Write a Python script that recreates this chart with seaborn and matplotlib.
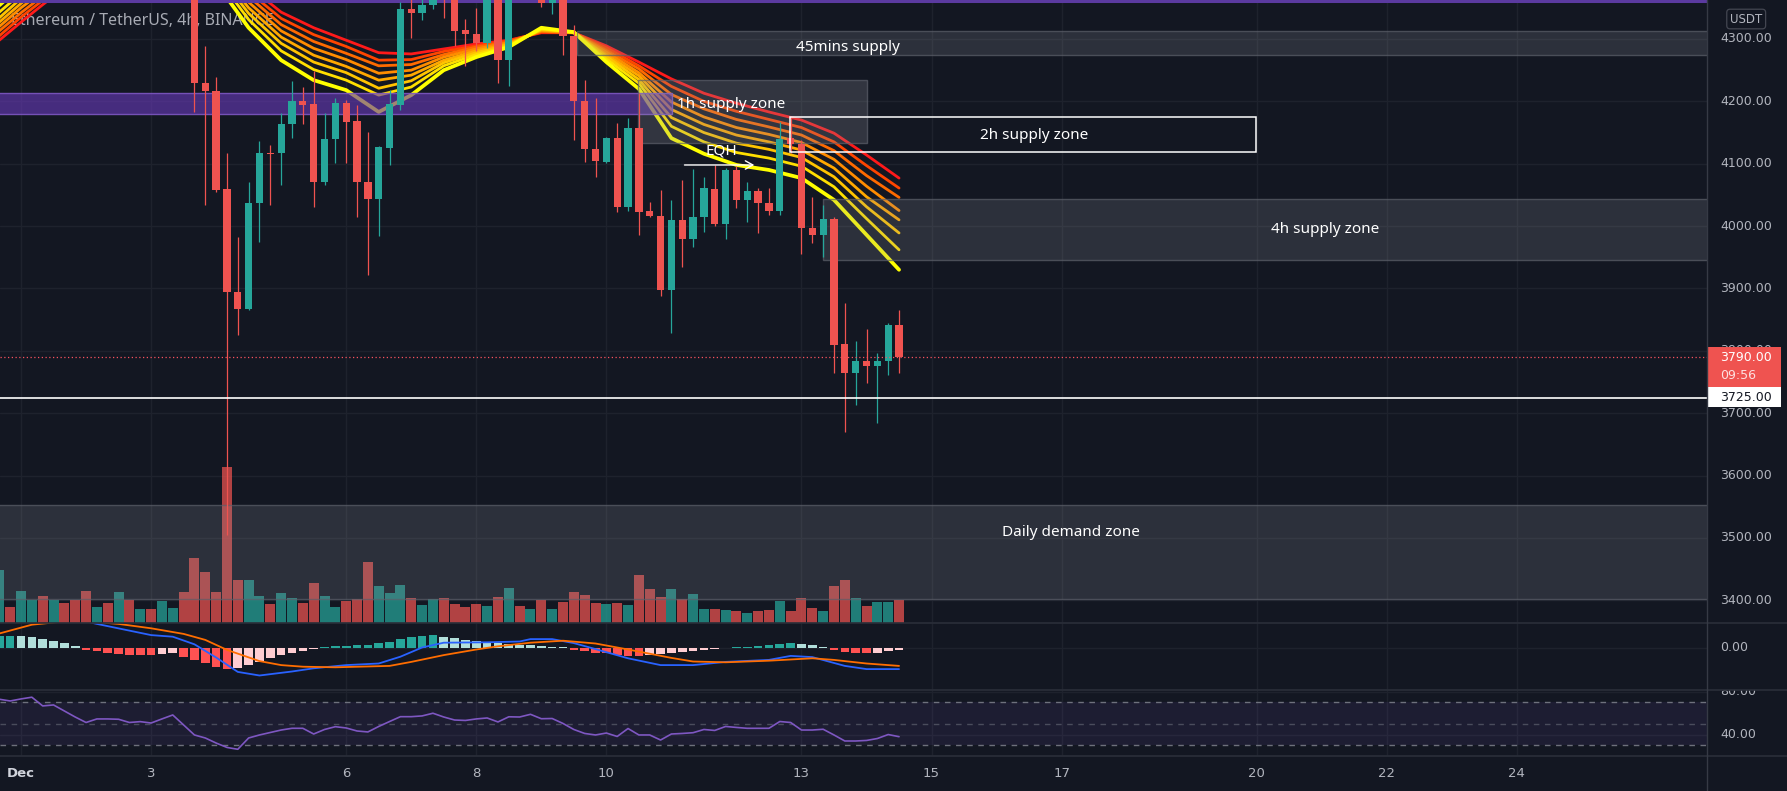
import matplotlib
matplotlib.use('Agg')
import matplotlib.pyplot as plt
import matplotlib.transforms as mtransforms
from matplotlib.patches import Rectangle
from matplotlib.lines import Line2D
from matplotlib.colors import to_rgba
import seaborn as sns

# ---------------- data ----------------
# 4h candles, index 0 = 1 Dec 00:00
candle_idx = list(range(-2, 82))
opens = [4560, 4620, 4600, 4640, 4700, 4630, 4660, 4600, 4560, 4530,
         4580, 4560, 4590, 4560, 4590, 4570, 4600, 4620, 4480, 4230,
         4217, 4059, 3894, 3867, 4037, 4118, 4118, 4163, 4201, 4196,
         4070, 4139, 4198, 4168, 4071, 4044, 4126, 4194, 4348, 4342,
         4355, 4400, 4375, 4314, 4308, 4294, 4380, 4266, 4390, 4370,
         4385, 4358, 4368, 4304, 4201, 4123, 4103, 4141, 4030, 4157,
         4024, 4016, 3898, 4010, 3979, 4014, 4059, 4003, 4090, 4042,
         4056, 4037, 4024, 4141, 4132, 3997, 3986, 4011, 3811, 3765,
         3783, 3775, 3783, 3841]
highs = [4640, 4650, 4670, 4730, 4720, 4680, 4670, 4620, 4580, 4600,
         4600, 4610, 4600, 4620, 4610, 4630, 4640, 4630, 4490, 4289,
         4239, 4118, 3982, 4071, 4137, 4130, 4181, 4232, 4223, 4248,
         4181, 4205, 4202, 4194, 4151, 4128, 4219, 4360, 4368, 4370,
         4415, 4420, 4390, 4332, 4349, 4400, 4420, 4410, 4410, 4400,
         4400, 4385, 4380, 4322, 4235, 4205, 4143, 4165, 4173, 4213,
         4039, 4058, 4042, 4074, 4091, 4079, 4098, 4093, 4096, 4070,
         4061, 4061, 4167, 4175, 4138, 4047, 4034, 4014, 3876, 3815,
         3835, 3797, 3845, 3866]
lows = [4550, 4580, 4590, 4630, 4610, 4600, 4570, 4530, 4500, 4510,
        4540, 4545, 4540, 4550, 4550, 4560, 4590, 4470, 4183, 4034,
        4055, 3505, 3825, 3866, 3975, 4034, 4066, 4142, 4163, 4031,
        4066, 4101, 4101, 4015, 3922, 3984, 4098, 4186, 4301, 4330,
        4348, 4334, 4288, 4257, 4280, 4285, 4230, 4225, 4365, 4366,
        4352, 4340, 4274, 4138, 4102, 4078, 4101, 4023, 4025, 3986,
        4015, 3888, 3828, 3934, 3966, 3991, 4000, 3979, 4029, 4007,
        3989, 4018, 4018, 4117, 3956, 3973, 3951, 3764, 3670, 3713,
        3749, 3685, 3761, 3764]
closes = [4620, 4600, 4640, 4700, 4630, 4660, 4600, 4560, 4530, 4580,
          4560, 4590, 4560, 4590, 4570, 4600, 4620, 4480, 4229, 4216,
          4058, 3894, 3867, 4037, 4118, 4116, 4163, 4201, 4194, 4070,
          4139, 4198, 4167, 4071, 4044, 4127, 4195, 4348, 4342, 4355,
          4400, 4375, 4313, 4308, 4294, 4380, 4266, 4390, 4370, 4385,
          4358, 4368, 4305, 4201, 4123, 4105, 4141, 4030, 4157, 4023,
          4017, 3898, 4010, 3979, 4014, 4061, 4003, 4090, 4042, 4056,
          4037, 4024, 4139, 4132, 3997, 3986, 4011, 3809, 3764, 3783,
          3775, 3784, 3841, 3790]
volume_k = [53.3, 16.6, 32.3, 23.3, 27.3, 23.3, 20.6, 23.3, 32.3, 16.6,
            20.6, 31, 23.3, 14.3, 14.3, 22.6, 15.6, 31, 65.6, 51.6,
            31, 156, 43.3, 43.3, 27.3, 19.3, 30, 25, 20.6, 40.6,
            27.3, 16.6, 22.6, 24, 61.6, 37.6, 30.6, 38.3, 25, 18.3,
            24, 25, 19.3, 16.6, 19.3, 17.3, 26.6, 35, 17.3, 14.3,
            23.3, 14.3, 21.6, 31, 28.3, 20.6, 19.3, 20.6, 18.3, 48.3,
            34.3, 26.6, 34.3, 24, 29.3, 14.3, 14.3, 13.3, 12.3, 10,
            12.3, 13.3, 22.6, 12.3, 25, 15, 12.3, 37.3, 43.3, 25,
            17.3, 21.6, 21.6, 23.3]
macd_hist = [28.7, 29.5, 28.7, 25.4, 22.1, 17.1, 10.4, 4.6,
             -6.2, -7.9, -12.9, -16.2, -18.7, -18.7, -18.7, -16.2, -14.6,
             -22.9, -31.2, -39.6, -47.9, -53.7,
             -52.1, -43.7, -35.4, -27.1, -18.7, -12.9, -7.9, -3.7,
             2.1, 2.9, 4.6, 5.4, 7.1, 10.4, 14.6, 20.4, 25.4, 28.7, 30.4,
             27.1, 22.9, 18.7, 15.4, 12.9, 10.4, 8.7, 7.1, 5.4, 3.7, 2.1, 1.2,
             -6.2, -9.6, -12.9, -14.6, -17.9, -20.4, -21.2,
             -19.6, -17.1, -14.6, -12.1, -8.7, -6.2, -3.7, -1.2,
             1.2, 2.1, 3.7, 5.4, 7.9, 10.4, 8.7, 5.4, 2.1,
             -6.2, -11.2, -13.7, -14.6, -12.9, -9.6, -6.2]
macd_k = [-2, 3, 7, 12, 14, 16, 18, 20, 22, 25, 27, 30, 33, 35, 37, 39,
          43, 46, 47, 49, 51, 53, 56, 59, 62, 65, 69, 71, 73, 76, 78, 81]
macd_line = [64, 84, 59, 31, 27, 8, -25, -61, -70, -60, -52, -44, -40, -23, 0, 12,
             13, 15, 21, 21, 11, -4, -27, -44, -44, -36, -31, -21, -24, -46, -54, -54]
signal_k = [-2, 1, 5, 9, 12, 15, 17, 19, 22, 24, 26, 29, 34, 36, 39, 42, 44,
            47, 50, 53, 56, 60, 62, 65, 69, 73, 75, 78, 81]
signal_line = [35, 57, 68, 59, 48, 34, 19, -6, -34, -44, -48, -49.5, -46, -36, -19, -5, 3,
               12, 17, 10, -5, -26, -35, -37, -33, -27, -31, -40, -46]
rsi = [72.8, 71.2, 73.1, 74.7, 66.6, 67.5, 61.9, 56.3, 51.2, 54.5,
       54.5, 54.2, 51.2, 52, 50.7, 54.5, 58.2, 48.9, 39.6, 36.8,
       32.1, 28, 26.3, 36.8, 39.6, 41.9, 44.2, 45.8, 45.8, 40.5,
       44.7, 47.3, 46.1, 43.3, 42.4, 47.5, 52.1, 56.6, 56.6, 57.3,
       59.8, 56.3, 53.5, 53.1, 54.5, 55.4, 51.7, 56.5, 56.3, 58.8,
       54.7, 54.9, 50.3, 44.7, 41, 39.6, 41.4, 38.2, 45.6, 39.6,
       39.6, 34.9, 40.5, 41, 41.7, 44.7, 43.8, 47.5, 46.6, 45.8,
       45.8, 45.8, 52.1, 51.2, 44.2, 44.2, 44.9, 39.6, 34, 34,
       34.5, 36.3, 40, 38]
# EMA ribbon, slow (red) -> fast (yellow)
ribbon_k = [-2, 0, 2, 5, 9, 13, 16, 18, 21, 24, 27, 30, 33, 36, 39, 42, 45, 48,
            51, 54, 57, 60, 63, 66, 69, 72, 75, 78, 81]
ema_1 = [4298, 4327, 4355, 4395, 4440, 4470, 4470, 4445, 4385, 4343, 4318, 4298, 4278, 4276, 4284,
         4292, 4298, 4310, 4310, 4289, 4263, 4236, 4213, 4197, 4183, 4170, 4149, 4114, 4077]
ema_2 = [4305, 4335, 4362, 4405, 4456, 4486, 4474, 4438, 4376, 4333, 4307, 4288, 4266, 4267, 4280,
         4289, 4297, 4311, 4310, 4286, 4257, 4224, 4200, 4184, 4171, 4158, 4135, 4097, 4061]
ema_3 = [4313, 4342, 4369, 4415, 4471, 4501, 4478, 4431, 4368, 4323, 4296, 4277, 4257, 4259, 4275,
         4287, 4295, 4312, 4310, 4282, 4252, 4211, 4188, 4171, 4159, 4146, 4121, 4081, 4046]
ema_4 = [4320, 4350, 4376, 4424, 4487, 4517, 4482, 4424, 4359, 4313, 4285, 4267, 4245, 4250, 4271,
         4284, 4294, 4313, 4310, 4279, 4246, 4199, 4175, 4158, 4147, 4134, 4107, 4064, 4025]
ema_5 = [4327, 4357, 4384, 4434, 4502, 4532, 4486, 4416, 4350, 4303, 4274, 4256, 4234, 4242, 4266,
         4281, 4292, 4314, 4310, 4275, 4241, 4187, 4163, 4146, 4135, 4122, 4093, 4047, 4010]
ema_6 = [4334, 4365, 4391, 4444, 4518, 4548, 4490, 4409, 4341, 4293, 4263, 4246, 4221, 4233, 4262,
         4278, 4291, 4315, 4311, 4272, 4235, 4174, 4150, 4133, 4123, 4110, 4079, 4031, 3989]
ema_7 = [4343, 4373, 4399, 4455, 4536, 4566, 4494, 4401, 4331, 4281, 4251, 4234, 4210, 4223, 4257,
         4275, 4289, 4316, 4311, 4268, 4229, 4160, 4135, 4118, 4109, 4096, 4063, 4012, 3962]
ema_8 = [4354, 4385, 4410, 4470, 4560, 4590, 4500, 4390, 4318, 4266, 4234, 4218, 4183, 4210, 4250,
         4271, 4287, 4318, 4311, 4263, 4220, 4141, 4116, 4098, 4090, 4077, 4042, 3986, 3930]
price_ticks = [4300, 4200, 4100, 4000, 3900, 3800, 3700, 3600, 3500, 3400]
date_days = [1, 3, 6, 8, 10, 13, 15, 17, 20, 22, 24]
date_labels = ['Dec', '3', '6', '8', '10', '13', '15', '17', '20', '22', '24']
# drawn zones: [start candle, end candle, low price, high price]
zone_purple = [-2.5, 60.1, 4179.2, 4212.9]
zone_45m = [51.3, 156, 4274.8, 4312.8]
zone_1h = [56.95, 78.0, 4133.7, 4233.8]
zone_2h = [70.94, 113.97, 4118.4, 4174.5]
zone_4h = [73.98, 156, 3945.8, 4042.9]
zone_daily = [-2.5, 156, 3401.8, 3552.5]
top_line_price = 4361
level_3725 = 3725
last_price = 3790
eqh_price = 4098
eqh_from, eqh_to = 60.95, 67.9

# ---------------- style ----------------
W, H = 1787, 791
BG = '#131722'
GRID = '#1e222d'
SEP = '#2a2e39'
TXT = '#b2b5be'
UP, DN = '#26a69a', '#ef5350'
ANN_FONT = ['Noto Sans', 'DejaVu Sans']

sns.set_theme(style='dark', rc={'axes.facecolor': BG, 'figure.facecolor': BG})
plt.rcParams['font.family'] = ['DejaVu Sans']

fig = plt.figure(figsize=(W / 100, H / 100), dpi=100)
fig.patch.set_facecolor(BG)


def box(x0, y0, x1, y1):
    return [x0 / W, 1 - y1 / H, (x1 - x0) / W, (y1 - y0) / H]


PX = 1707
Y_P, Y_M, Y_R, Y_T = 623.3, 690, 756, 791
ax_p = fig.add_axes(box(0, 0, PX, Y_P))
ax_m = fig.add_axes(box(0, Y_P, PX, Y_M), sharex=ax_p)
ax_r = fig.add_axes(box(0, Y_M, PX, Y_R), sharex=ax_p)
ax_t = fig.add_axes(box(0, Y_R, PX, Y_T), sharex=ax_p)
for a in (ax_p, ax_m, ax_r, ax_t):
    a.set_facecolor(BG)
    a.grid(False)
    for s in a.spines.values():
        s.set_visible(False)

XL, XR = -21 / 10.84, (PX - 21) / 10.84
tick_k = [(d - 1) * 6 for d in date_days]

# grid
for a in (ax_p, ax_m, ax_r):
    for k in tick_k:
        a.axvline(k, color=GRID, lw=1, zorder=0.5)
for v in price_ticks:
    ax_p.axhline(v, color=GRID, lw=1, zorder=0.5)
ax_m.axhline(0, color=GRID, lw=1, zorder=0.5)
for v in (80, 40):
    ax_r.axhline(v, color=GRID, lw=1, zorder=0.5)

# title
ax_p.text(10.7 / PX, 1 - 20.7 / Y_P, 'Ethereum / TetherUS, 4h, BINANCE', transform=ax_p.transAxes,
          ha='left', va='center', fontsize=11.5, color='#a7aab3', family=ANN_FONT,
          fontweight='semibold', zorder=1)

# volume (own vertical scale at the bottom of the price pane)
cndl_colors = [UP if c >= o else DN for o, c in zip(opens, closes)]
vol_tr = mtransforms.blended_transform_factory(
    ax_p.transData, mtransforms.Affine2D().scale(1, 1 / Y_P) + ax_p.transAxes)
ax_p.bar(candle_idx, volume_k, width=0.92, bottom=0, color=[to_rgba(c, 0.72) for c in cndl_colors],
         linewidth=0, transform=vol_tr, zorder=1.2)

# EMA ribbon
rib_lines = [ema_1, ema_2, ema_3, ema_4, ema_5, ema_6, ema_7, ema_8]
rib_colors = ['#ff1a1a', '#ff4500', '#ff6a00', '#ff8c00', '#ffa800', '#ffc400', '#ffdf00', '#ffff00']
for i, (vals, c) in enumerate(zip(rib_lines, rib_colors)):
    sns.lineplot(x=ribbon_k, y=vals, ax=ax_p, color=c, linewidth=2.7 if i == 7 else 2.0,
                 legend=False, zorder=2 + i * 0.01)

# zones
def zone(z, fc, alpha, ec='#5d606b', ealpha=0.7, lw=1.0, zo=3):
    r = Rectangle((z[0], z[2]), z[1] - z[0], z[3] - z[2], facecolor=to_rgba(fc, alpha),
                  edgecolor=to_rgba(ec, ealpha), linewidth=lw, zorder=zo)
    ax_p.add_patch(r)

zone(zone_purple, '#673ab7', 0.62, ec='#7e57c2', ealpha=0.9)
zone(zone_45m, '#9598a1', 0.2)
zone(zone_1h, '#9598a1', 0.24)
zone(zone_4h, '#9598a1', 0.2)
zone(zone_daily, '#9598a1', 0.2)
ax_p.add_patch(Rectangle((zone_2h[0], zone_2h[2]), zone_2h[1] - zone_2h[0], zone_2h[3] - zone_2h[2],
                         fill=False, edgecolor='white', linewidth=1.1, zorder=4.5))
ax_p.axhline(top_line_price, color='#5b3aa0', lw=2.2, zorder=3)

# candles
ax_p.vlines(candle_idx, lows, highs, colors=cndl_colors, linewidth=0.9, zorder=4)
body_b = [min(o, c) for o, c in zip(opens, closes)]
body_h = [max(abs(c - o), 1.8) for o, c in zip(opens, closes)]
ax_p.bar(candle_idx, body_h, bottom=body_b, width=0.67, color=cndl_colors, linewidth=0, zorder=4.1)

# levels
ax_p.axhline(level_3725, color='white', lw=1.2, zorder=5)
ax_p.axhline(last_price, color='#f7525f', lw=0.9, linestyle=(0, (1, 2)), zorder=5)

# annotations
ann = dict(color='white', fontsize=11, family=ANN_FONT, ha='center', va='center', zorder=6)
ax_p.text(76.3, 4286, '45mins supply', **ann)
ax_p.text(65.5, 4195, '1h supply zone', **ann)
ax_p.text(93.5, 4146, '2h supply zone', **ann)
ax_p.text(120.3, 3995, '4h supply zone', **ann)
ax_p.text(96.9, 3508, 'Daily demand zone', **ann)
ax_p.text(64.6, 4120, 'EQH', **ann)
ax_p.annotate('', xy=(eqh_to, eqh_price), xytext=(eqh_from, eqh_price),
              arrowprops=dict(arrowstyle='->,head_length=0.45,head_width=0.25', color='white', lw=1.0),
              zorder=6)

# MACD pane
hist_colors = []
prev = None
for v in macd_hist:
    if v >= 0:
        hist_colors.append('#26a69a' if (prev is None or v >= prev) else '#b2dfdb')
    else:
        hist_colors.append('#ff5252' if (prev is None or v <= prev) else '#ffcdd2')
    prev = v
ax_m.bar(candle_idx, macd_hist, width=0.8, color=hist_colors, linewidth=0, zorder=2)
sns.lineplot(x=macd_k, y=macd_line, ax=ax_m, color='#2962ff', linewidth=1.3, legend=False, zorder=3)
sns.lineplot(x=signal_k, y=signal_line, ax=ax_m, color='#ff6d00', linewidth=1.3, legend=False, zorder=3)

# RSI pane
ax_r.axhspan(30, 70, color='#7e57c2', alpha=0.1, lw=0, zorder=0.6)
for v, al in ((70, 0.9), (50, 0.5), (30, 0.9)):
    ax_r.axhline(v, color='#787b86', lw=1, alpha=al, linestyle=(0, (4, 4)), zorder=1)
sns.lineplot(x=candle_idx, y=rsi, ax=ax_r, color='#7e57c2', linewidth=1.2, legend=False, zorder=3)

# limits
ax_p.set_xlim(XL, XR)
ax_p.set_ylim(3363.2, 4362.5)
ax_m.set_ylim(-106.25, 60.5)
ax_r.set_ylim(20.05, 81.4)
for a in (ax_p, ax_m, ax_r, ax_t):
    a.set_xticks([])
    a.set_yticks([])
    a.set_xlabel('')
    a.set_ylabel('')

# time axis labels
tt = mtransforms.blended_transform_factory(ax_t.transData, ax_t.transAxes)
for k, lab in zip(tick_k, date_labels):
    ax_t.text(k, 0.494, lab, transform=tt, ha='center', va='center', fontsize=9.5,
              color='#d1d4dc' if lab == 'Dec' else TXT, fontweight='bold' if lab == 'Dec' else 'normal')

# right-hand value axes
def right_axes(y0, y1, share):
    a = fig.add_axes(box(PX, y0, W, y1), sharey=share)
    a.set_axis_off()
    return a, mtransforms.blended_transform_factory(a.transAxes, a.transData)

LX = 13 / 80
lab_p, bp = right_axes(0, Y_P, ax_p)
for v in price_ticks:
    lab_p.text(LX, v, f'{v:.2f}', transform=bp, ha='left', va='center', fontsize=9, color=TXT,
               clip_on=True, zorder=1)
lab_p.text(0.49, 4332, 'USDT', transform=bp, ha='center', va='center', fontsize=8.5, color=TXT, zorder=2,
           bbox=dict(boxstyle='round,pad=0.28', fc=BG, ec='#434651', lw=0.9))
lab_p.add_patch(Rectangle((0, 3742.5), 0.925, 64.2, transform=bp, facecolor=DN, lw=0, zorder=3,
                          clip_on=False))
lab_p.text(LX, 3789.6, f'{last_price:.2f}', transform=bp, ha='left', va='center', fontsize=9,
           color='white', zorder=4)
lab_p.text(LX, 3759.7, '09:56', transform=bp, ha='left', va='center', fontsize=9, color='#fde0e0', zorder=4)
lab_p.add_patch(Rectangle((0, 3710.4), 0.925, 32.1, transform=bp, facecolor='white', lw=0, zorder=3,
                          clip_on=False))
lab_p.text(LX, level_3725, f'{level_3725:.2f}', transform=bp, ha='left', va='center', fontsize=9,
           color='#131722', zorder=4)

lab_m, bm = right_axes(Y_P, Y_M, ax_m)
lab_m.text(LX, 0, '0.00', transform=bm, ha='left', va='center', fontsize=9, color=TXT, clip_on=True)
lab_r, br = right_axes(Y_M, Y_R, ax_r)
for v in (80, 40):
    lab_r.text(LX, v, f'{v:.2f}', transform=br, ha='left', va='center', fontsize=9, color=TXT, clip_on=True)

lab_p.set_ylim(3363.2, 4362.5)

# pane separators
for y in (Y_P, Y_M, Y_R):
    fig.add_artist(Line2D([0, 1], [1 - y / H] * 2, transform=fig.transFigure, color=SEP, lw=1.2))
fig.add_artist(Line2D([PX / W] * 2, [0, 1], transform=fig.transFigure, color='#363a45', lw=1))

fig.savefig('out.png', dpi=100, facecolor=BG)
